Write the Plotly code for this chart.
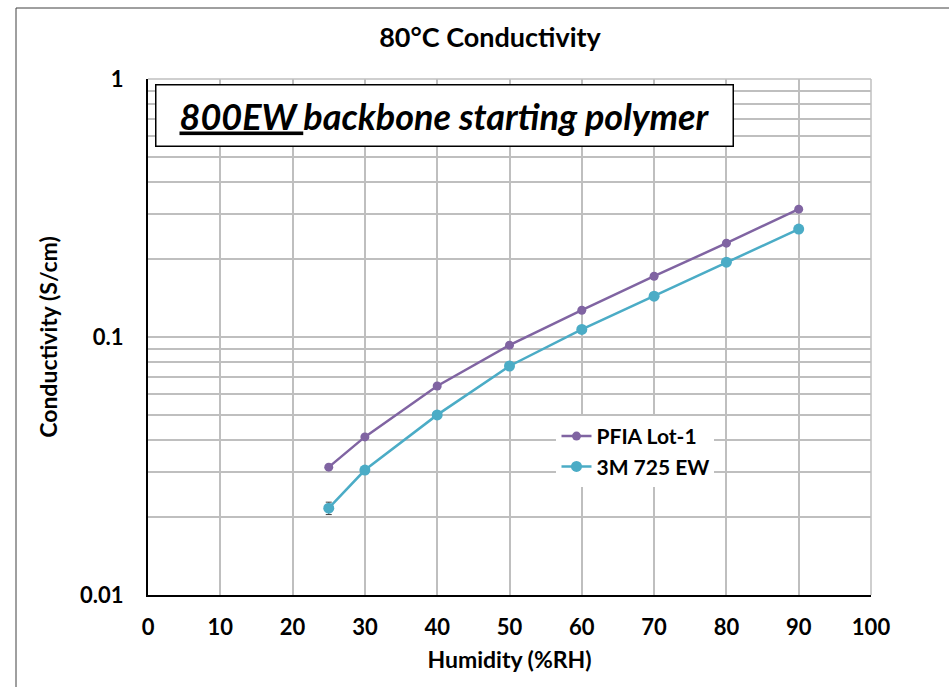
import plotly.graph_objects as go

# Relative humidity set points (%RH)
humidity = [25, 30, 40, 50, 60, 70, 80, 90]

# Conductivity at 80 °C (S/cm)
pfia_lot1 = [0.0313, 0.0410, 0.0646, 0.0930, 0.127, 0.172, 0.231, 0.313]
m3_725ew = [0.0217, 0.0305, 0.0499, 0.0772, 0.107, 0.144, 0.195, 0.262]
m3_err = [0.0012, 0, 0, 0, 0, 0, 0, 0]

x_ticks = list(range(0, 101, 10))
y_major = [0.01, 0.1, 1]
y_major_text = ["0.01", "0.1", "1"]
y_minor = [m * d for d in (0.01, 0.1) for m in range(2, 10)]

FONT = "Lato, 'Open Sans', sans-serif"
GRID = "#bfbfbf"

fig = go.Figure()
fig.add_trace(go.Scatter(
    x=humidity, y=pfia_lot1, name="PFIA Lot-1", mode="lines+markers",
    line=dict(color="#8064a2", width=2.5),
    marker=dict(color="#8064a2", size=9),
))
fig.add_trace(go.Scatter(
    x=humidity, y=m3_725ew, name="3M 725 EW", mode="lines+markers",
    line=dict(color="#4bacc6", width=2.5),
    marker=dict(color="#4bacc6", size=11),
    error_y=dict(type="data", array=m3_err, color="#404040", thickness=1, width=3),
))

fig.update_layout(
    width=949, height=687,
    margin=dict(l=148, r=78, t=79, b=92),
    paper_bgcolor="white", plot_bgcolor="white",
    font=dict(family=FONT, color="black"),
    title=dict(text="<b>80°C Conductivity</b>", x=490 / 949, xanchor="center",
               y=1 - 38 / 687, yanchor="middle", font=dict(size=27)),
    showlegend=True,
    legend=dict(x=0.565, y=0.347, xanchor="left", yanchor="top",
                bgcolor="white", borderwidth=0,
                font=dict(size=21, family=FONT, weight="bold"), itemwidth=30),
    xaxis=dict(
        range=[0, 100], tickvals=x_ticks,
        ticktext=["<b>%d</b>" % v for v in x_ticks],
        showgrid=True, gridcolor=GRID, gridwidth=1.5,
        showline=True, linecolor="black", linewidth=2,
        ticks="", ticklabelstandoff=12,
        tickfont=dict(size=22, family=FONT),
        title=dict(text="<b>Humidity (%RH)</b>", font=dict(size=23), standoff=12),
        zeroline=False,
    ),
    yaxis=dict(
        type="log", range=[-2, 0],
        tickvals=y_major, ticktext=["<b>%s</b>" % t for t in y_major_text],
        showgrid=True, gridcolor=GRID, gridwidth=1.5,
        minor=dict(tickvals=y_minor, showgrid=True, gridcolor=GRID, gridwidth=1.5, ticks=""),
        showline=True, linecolor="black", linewidth=2,
        ticks="", ticklabelstandoff=18,
        tickfont=dict(size=22, family=FONT),
        title=dict(text="<b>Conductivity (S/cm)</b>", font=dict(size=23), standoff=16),
        zeroline=False,
    ),
)

# grey frame at top/right of plotting region
fig.add_shape(type="line", xref="paper", yref="paper", x0=0, x1=1, y0=1, y1=1,
              line=dict(color=GRID, width=1.5))
fig.add_shape(type="line", xref="paper", yref="paper", x0=1, x1=1, y0=0, y1=1,
              line=dict(color=GRID, width=1.5))

# outer chart border
fig.add_shape(type="rect", xref="paper", yref="paper",
              x0=(16 - 148) / 723, x1=1.3, y0=-0.3, y1=(595 - 8) / 516,
              line=dict(color="#404040", width=1), layer="below")

# boxed caption
fig.add_annotation(
    xref="paper", yref="paper",
    x=((153 + 735) / 2 - 148) / 723, y=(595 - 115) / 516,
    xanchor="center", yanchor="middle", showarrow=False,
    text="<b><i><u>800EW </u>backbone starting polymer</i></b>",
    font=dict(size=36, family=FONT, color="black"),
    bgcolor="white", bordercolor="black", borderwidth=1.5,
    width=574, height=58, align="center",
)

fig.write_html("out.html")
